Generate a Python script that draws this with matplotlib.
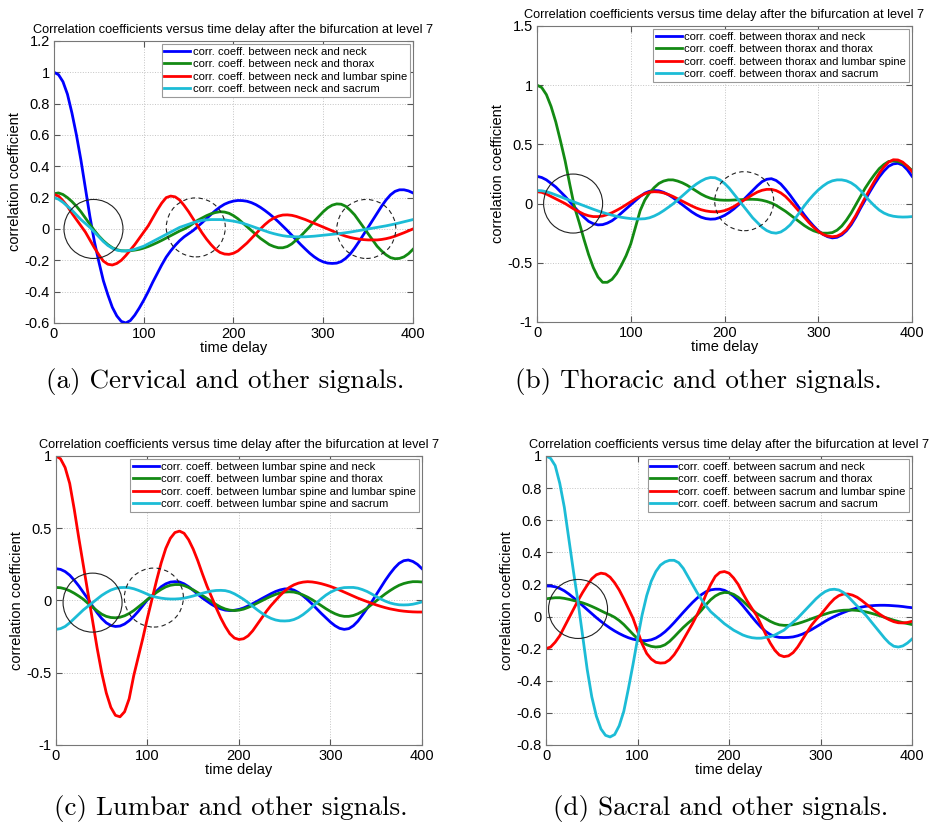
import numpy as np
import matplotlib.pyplot as plt
from matplotlib.patches import Circle
from matplotlib.transforms import ScaledTranslation
from matplotlib.ticker import FuncFormatter

plt.rcParams['font.family'] = ['Liberation Sans', 'DejaVu Sans']

delay = np.arange(0, 401, 5)

# (a) cervical
a_neck = [1.0, 0.985, 0.94, 0.86, 0.74, 0.6, 0.44, 0.26, 0.08, -0.08, -0.21, -0.33, -0.42, -0.5, -0.555, -0.59,
          -0.6, -0.585, -0.55, -0.505, -0.455, -0.4, -0.34, -0.285, -0.23, -0.18, -0.14, -0.105, -0.075, -0.05,
          -0.03, -0.01, 0.015, 0.04, 0.067, 0.093, 0.118, 0.14, 0.158, 0.17, 0.178, 0.182, 0.181, 0.177, 0.168,
          0.155, 0.138, 0.118, 0.096, 0.072, 0.046, 0.018, -0.01, -0.04, -0.07, -0.1, -0.128, -0.155, -0.178,
          -0.197, -0.21, -0.218, -0.22, -0.218, -0.208, -0.188, -0.16, -0.122, -0.08, -0.035, 0.01, 0.055, 0.1,
          0.145, 0.185, 0.218, 0.24, 0.25, 0.25, 0.243, 0.23]
a_thorax = [0.225, 0.23, 0.22, 0.2, 0.175, 0.145, 0.11, 0.07, 0.03, -0.01, -0.045, -0.075, -0.1, -0.12, -0.132,
            -0.139, -0.14, -0.139, -0.135, -0.13, -0.122, -0.112, -0.1, -0.087, -0.073, -0.058, -0.043, -0.028,
            -0.013, 0.0, 0.015, 0.035, 0.055, 0.07, 0.085, 0.097, 0.105, 0.11, 0.108, 0.1, 0.085, 0.065, 0.04,
            0.015, -0.01, -0.035, -0.06, -0.08, -0.1, -0.112, -0.12, -0.12, -0.112, -0.095, -0.07, -0.045, -0.015,
            0.015, 0.05, 0.08, 0.11, 0.135, 0.152, 0.16, 0.158, 0.145, 0.12, 0.09, 0.05, 0.01, -0.03, -0.07, -0.11,
            -0.14, -0.165, -0.183, -0.19, -0.188, -0.178, -0.158, -0.13]
a_lumbar = [0.22, 0.21, 0.18, 0.145, 0.1, 0.06, 0.02, -0.02, -0.07, -0.12, -0.165, -0.205, -0.225, -0.23, -0.22,
            -0.2, -0.17, -0.135, -0.1, -0.06, -0.02, 0.02, 0.07, 0.12, 0.165, 0.2, 0.21, 0.205, 0.185, 0.15, 0.11,
            0.065, 0.02, -0.025, -0.065, -0.1, -0.13, -0.15, -0.16, -0.162, -0.155, -0.14, -0.115, -0.09, -0.06,
            -0.03, 0.0, 0.028, 0.052, 0.07, 0.082, 0.089, 0.09, 0.087, 0.08, 0.07, 0.06, 0.048, 0.036, 0.024,
            0.012, 0.0, -0.012, -0.025, -0.036, -0.046, -0.054, -0.06, -0.065, -0.068, -0.07, -0.07, -0.07,
            -0.067, -0.062, -0.055, -0.046, -0.035, -0.024, -0.012, 0.0]
a_sacrum = [0.2, 0.19, 0.17, 0.145, 0.12, 0.09, 0.06, 0.035, 0.01, -0.02, -0.05, -0.08, -0.105, -0.123, -0.135,
            -0.14, -0.14, -0.136, -0.13, -0.12, -0.11, -0.095, -0.08, -0.065, -0.05, -0.035, -0.02, -0.005, 0.01,
            0.02, 0.03, 0.04, 0.048, 0.055, 0.058, 0.06, 0.06, 0.06, 0.058, 0.054, 0.05, 0.044, 0.037, 0.028,
            0.018, 0.008, -0.002, -0.012, -0.022, -0.03, -0.037, -0.043, -0.047, -0.049, -0.05, -0.05, -0.05,
            -0.048, -0.046, -0.043, -0.04, -0.037, -0.034, -0.031, -0.028, -0.024, -0.02, -0.015, -0.01, -0.005,
            0.0, 0.005, 0.01, 0.015, 0.02, 0.026, 0.032, 0.039, 0.046, 0.053, 0.06]

# (b) thoracic
b_neck = [0.23, 0.22, 0.2, 0.17, 0.14, 0.1, 0.06, 0.015, -0.03, -0.075, -0.115, -0.15, -0.17, -0.18, -0.178,
          -0.165, -0.145, -0.115, -0.08, -0.045, -0.01, 0.025, 0.06, 0.088, 0.104, 0.11, 0.108, 0.095, 0.075,
          0.05, 0.02, -0.01, -0.04, -0.07, -0.095, -0.115, -0.127, -0.132, -0.13, -0.118, -0.1, -0.075, -0.045,
          -0.01, 0.03, 0.07, 0.11, 0.15, 0.185, 0.205, 0.21, 0.195, 0.165, 0.12, 0.07, 0.015, -0.04, -0.095,
          -0.145, -0.19, -0.23, -0.26, -0.28, -0.29, -0.285, -0.265, -0.23, -0.18, -0.115, -0.04, 0.03, 0.1,
          0.165, 0.225, 0.275, 0.315, 0.335, 0.34, 0.325, 0.285, 0.23]
b_thorax = [1.0, 0.98, 0.92, 0.82, 0.69, 0.53, 0.36, 0.16, -0.03, -0.16, -0.3, -0.43, -0.54, -0.62, -0.665,
            -0.665, -0.64, -0.59, -0.52, -0.44, -0.34, -0.2, -0.06, 0.03, 0.09, 0.135, 0.17, 0.19, 0.2, 0.2, 0.19,
            0.175, 0.155, 0.13, 0.105, 0.08, 0.06, 0.045, 0.035, 0.03, 0.028, 0.028, 0.03, 0.032, 0.034, 0.036,
            0.036, 0.034, 0.028, 0.018, 0.004, -0.015, -0.04, -0.065, -0.095, -0.125, -0.155, -0.185, -0.21,
            -0.23, -0.243, -0.25, -0.25, -0.245, -0.225, -0.19, -0.14, -0.08, -0.01, 0.06, 0.13, 0.19, 0.245,
            0.295, 0.33, 0.355, 0.36, 0.355, 0.34, 0.315, 0.28]
b_lumbar = [0.1, 0.095, 0.08, 0.06, 0.04, 0.02, 0.0, -0.025, -0.05, -0.07, -0.09, -0.103, -0.11, -0.11, -0.105,
            -0.093, -0.077, -0.057, -0.035, -0.01, 0.015, 0.04, 0.063, 0.083, 0.096, 0.1, 0.098, 0.09, 0.077, 0.06,
            0.04, 0.02, 0.0, -0.02, -0.038, -0.052, -0.062, -0.068, -0.07, -0.068, -0.06, -0.045, -0.025, 0.0,
            0.025, 0.05, 0.075, 0.097, 0.112, 0.12, 0.12, 0.11, 0.09, 0.06, 0.02, -0.025, -0.07, -0.115, -0.16,
            -0.2, -0.235, -0.26, -0.275, -0.28, -0.275, -0.255, -0.22, -0.165, -0.1, -0.025, 0.05, 0.12, 0.19,
            0.255, 0.31, 0.35, 0.37, 0.368, 0.35, 0.315, 0.27]
b_sacrum = [0.11, 0.108, 0.1, 0.088, 0.073, 0.058, 0.042, 0.027, 0.012, -0.003, -0.018, -0.033, -0.048, -0.062,
            -0.075, -0.087, -0.098, -0.108, -0.116, -0.122, -0.127, -0.13, -0.13, -0.128, -0.12, -0.105, -0.085,
            -0.06, -0.032, -0.003, 0.03, 0.065, 0.1, 0.135, 0.165, 0.19, 0.21, 0.22, 0.218, 0.2, 0.17, 0.13, 0.08,
            0.03, -0.02, -0.07, -0.12, -0.16, -0.2, -0.228, -0.245, -0.25, -0.24, -0.215, -0.18, -0.13, -0.075,
            -0.02, 0.03, 0.075, 0.115, 0.148, 0.175, 0.192, 0.2, 0.2, 0.192, 0.175, 0.148, 0.11, 0.065, 0.02,
            -0.02, -0.055, -0.08, -0.097, -0.107, -0.112, -0.114, -0.113, -0.11]

# (c) lumbar
c_neck = [0.22, 0.215, 0.2, 0.175, 0.14, 0.1, 0.055, 0.01, -0.04, -0.085, -0.125, -0.155, -0.173, -0.18, -0.177,
          -0.163, -0.14, -0.11, -0.075, -0.035, 0.005, 0.033, 0.065, 0.095, 0.115, 0.127, 0.13, 0.128, 0.115,
          0.095, 0.07, 0.043, 0.017, -0.005, -0.027, -0.045, -0.058, -0.067, -0.07, -0.068, -0.062, -0.052,
          -0.038, -0.022, -0.005, 0.013, 0.03, 0.047, 0.062, 0.073, 0.08, 0.08, 0.072, 0.055, 0.032, 0.005,
          -0.025, -0.058, -0.09, -0.12, -0.15, -0.175, -0.193, -0.2, -0.195, -0.175, -0.143, -0.1, -0.055, -0.01,
          0.04, 0.09, 0.14, 0.185, 0.225, 0.257, 0.275, 0.28, 0.27, 0.25, 0.22]
c_thorax = [0.09, 0.088, 0.08, 0.067, 0.05, 0.03, 0.008, -0.02, -0.045, -0.072, -0.095, -0.11, -0.118, -0.12,
            -0.116, -0.106, -0.09, -0.07, -0.045, -0.02, 0.007, 0.032, 0.056, 0.077, 0.094, 0.105, 0.11, 0.11,
            0.103, 0.09, 0.073, 0.054, 0.034, 0.014, -0.008, -0.028, -0.046, -0.059, -0.067, -0.07, -0.067, -0.06,
            -0.048, -0.034, -0.018, -0.002, 0.014, 0.029, 0.042, 0.052, 0.058, 0.06, 0.058, 0.05, 0.038, 0.023,
            0.005, -0.015, -0.036, -0.057, -0.076, -0.092, -0.104, -0.11, -0.11, -0.104, -0.092, -0.075, -0.053,
            -0.028, -0.003, 0.022, 0.046, 0.068, 0.088, 0.105, 0.117, 0.125, 0.13, 0.13, 0.128]
c_lumbar = [1.0, 0.98, 0.92, 0.81, 0.63, 0.43, 0.24, 0.05, -0.14, -0.33, -0.5, -0.64, -0.74, -0.795, -0.805,
            -0.77, -0.68, -0.52, -0.39, -0.26, -0.12, 0.01, 0.14, 0.26, 0.36, 0.43, 0.47, 0.48, 0.465, 0.42, 0.355,
            0.275, 0.185, 0.1, 0.025, -0.05, -0.12, -0.18, -0.23, -0.26, -0.27, -0.265, -0.245, -0.21, -0.165,
            -0.12, -0.075, -0.035, 0.0, 0.035, 0.065, 0.09, 0.108, 0.12, 0.127, 0.13, 0.128, 0.123, 0.116, 0.107,
            0.097, 0.085, 0.072, 0.058, 0.044, 0.03, 0.016, 0.004, -0.008, -0.02, -0.031, -0.041, -0.05, -0.058,
            -0.064, -0.07, -0.074, -0.077, -0.079, -0.08, -0.08]
c_sacrum = [-0.2, -0.195, -0.18, -0.155, -0.125, -0.095, -0.065, -0.04, -0.015, 0.01, 0.035, 0.055, 0.072, 0.083,
            0.089, 0.09, 0.088, 0.081, 0.07, 0.057, 0.043, 0.03, 0.022, 0.016, 0.012, 0.01, 0.01, 0.012, 0.016,
            0.023, 0.031, 0.04, 0.05, 0.058, 0.065, 0.069, 0.07, 0.068, 0.06, 0.046, 0.028, 0.008, -0.015, -0.04,
            -0.065, -0.088, -0.108, -0.124, -0.135, -0.141, -0.142, -0.14, -0.132, -0.118, -0.098, -0.073, -0.045,
            -0.016, 0.012, 0.037, 0.057, 0.072, 0.083, 0.089, 0.09, 0.09, 0.085, 0.075, 0.062, 0.045, 0.027, 0.01,
            -0.005, -0.017, -0.025, -0.03, -0.031, -0.03, -0.026, -0.019, -0.01]

# (d) sacral
d_neck = [0.19, 0.19, 0.185, 0.175, 0.16, 0.14, 0.117, 0.093, 0.068, 0.043, 0.018, -0.007, -0.03, -0.052, -0.072,
          -0.09, -0.106, -0.12, -0.132, -0.141, -0.147, -0.15, -0.15, -0.145, -0.134, -0.117, -0.095, -0.068,
          -0.038, -0.006, 0.026, 0.057, 0.087, 0.114, 0.137, 0.155, 0.166, 0.17, 0.17, 0.163, 0.148, 0.127, 0.1,
          0.068, 0.033, -0.002, -0.036, -0.067, -0.093, -0.112, -0.124, -0.13, -0.131, -0.13, -0.127, -0.12,
          -0.11, -0.097, -0.082, -0.065, -0.048, -0.03, -0.014, 0.0, 0.013, 0.025, 0.036, 0.045, 0.053, 0.059,
          0.064, 0.067, 0.069, 0.07, 0.07, 0.069, 0.067, 0.065, 0.062, 0.058, 0.055]
d_thorax = [0.11, 0.114, 0.117, 0.117, 0.113, 0.107, 0.1, 0.093, 0.085, 0.075, 0.063, 0.05, 0.036, 0.022, 0.01,
            -0.005, -0.025, -0.05, -0.08, -0.11, -0.138, -0.16, -0.176, -0.186, -0.19, -0.187, -0.176, -0.155,
            -0.127, -0.097, -0.068, -0.042, -0.018, 0.008, 0.04, 0.075, 0.105, 0.128, 0.143, 0.15, 0.148, 0.138,
            0.12, 0.097, 0.07, 0.043, 0.02, 0.003, -0.013, -0.03, -0.043, -0.052, -0.055, -0.055, -0.051, -0.044,
            -0.035, -0.025, -0.014, -0.004, 0.006, 0.015, 0.024, 0.031, 0.036, 0.039, 0.04, 0.04, 0.038, 0.034,
            0.028, 0.021, 0.013, 0.004, -0.005, -0.014, -0.023, -0.031, -0.038, -0.044, -0.05]
d_lumbar = [-0.2, -0.19, -0.16, -0.12, -0.065, -0.01, 0.045, 0.1, 0.15, 0.195, 0.235, 0.26, 0.27, 0.265, 0.245,
            0.21, 0.165, 0.11, 0.05, -0.01, -0.09, -0.17, -0.23, -0.265, -0.285, -0.29, -0.288, -0.27, -0.238,
            -0.195, -0.145, -0.095, -0.045, 0.01, 0.07, 0.14, 0.2, 0.25, 0.275, 0.28, 0.27, 0.24, 0.2, 0.145,
            0.095, 0.05, 0.008, -0.05, -0.11, -0.165, -0.21, -0.24, -0.25, -0.245, -0.225, -0.19, -0.145, -0.1,
            -0.055, -0.02, 0.01, 0.045, 0.08, 0.11, 0.13, 0.14, 0.14, 0.133, 0.12, 0.1, 0.077, 0.055, 0.033, 0.013,
            -0.005, -0.02, -0.032, -0.039, -0.04, -0.037, -0.03]
d_sacrum = [1.0, 0.985, 0.94, 0.83, 0.68, 0.48, 0.28, 0.09, -0.12, -0.33, -0.5, -0.62, -0.7, -0.74, -0.75,
            -0.735, -0.68, -0.59, -0.45, -0.3, -0.14, 0.01, 0.13, 0.22, 0.28, 0.32, 0.34, 0.35, 0.35, 0.335, 0.3,
            0.25, 0.2, 0.15, 0.105, 0.065, 0.03, 0.005, -0.02, -0.045, -0.065, -0.085, -0.1, -0.115, -0.125,
            -0.132, -0.135, -0.135, -0.13, -0.125, -0.115, -0.1, -0.085, -0.06, -0.035, -0.01, 0.02, 0.05, 0.08,
            0.11, 0.135, 0.155, 0.167, 0.17, 0.165, 0.15, 0.125, 0.095, 0.065, 0.035, 0.005, -0.03, -0.065, -0.1,
            -0.135, -0.165, -0.185, -0.19, -0.183, -0.165, -0.14]

regions = ['neck', 'thorax', 'lumbar spine', 'sacrum']
colors = ['#0000ff', '#138a13', '#ff0000', '#1cbcd6']

panels = [
    ('neck', [a_neck, a_thorax, a_lumbar, a_sacrum], (-0.6, 1.2), 0.2, '(a) Cervical and other signals.'),
    ('thorax', [b_neck, b_thorax, b_lumbar, b_sacrum], (-1, 1.5), 0.5, '(b) Thoracic and other signals.'),
    ('lumbar spine', [c_neck, c_thorax, c_lumbar, c_sacrum], (-1, 1), 0.5, '(c) Lumbar and other signals.'),
    ('sacrum', [d_neck, d_thorax, d_lumbar, d_sacrum], (-0.8, 1), 0.2, '(d) Sacral and other signals.'),
]

# highlighted crossings: (delay, coefficient, dashed)
circles = [
    [(44, 0.0, False), (158, 0.01, True), (348, 0.0, True)],
    [(38.5, 0.0, False), (221, 0.02, True)],
    [(40, -0.015, False), (107, 0.02, True)],
    [(35, 0.047, False)],
]

rects = [[0.0575, 0.609, 0.3823, 0.3414],
         [0.5719, 0.6102, 0.3994, 0.3584],
         [0.0596, 0.0981, 0.3898, 0.3499],
         [0.5815, 0.0981, 0.3898, 0.3499]]
caption_pos = [(225, 382), (698, 382), (231, 808), (721, 808)]

fig = plt.figure(figsize=(9.39, 8.26), dpi=100)
fmt = FuncFormatter(lambda v, p: '%g' % (round(v, 6) + 0.0))

for i, (ref, series, ylim, step, caption) in enumerate(panels):
    ax = fig.add_axes(rects[i])
    for s, reg, col in zip(series, regions, colors):
        assert len(s) == len(delay), (ref, reg, len(s))
        ax.plot(delay, s, color=col, lw=2.0, label='corr. coeff. between %s and %s' % (ref, reg))
    ax.set_xlim(0, 400)
    ax.set_ylim(*ylim)
    ax.set_xticks(np.arange(0, 401, 100))
    ax.set_yticks(np.arange(ylim[0], ylim[1] + step / 2, step))
    ax.xaxis.set_major_formatter(fmt)
    ax.yaxis.set_major_formatter(fmt)
    ax.tick_params(direction='in', top=True, right=True, labelsize=10.5, length=4, pad=3, color='#555555')
    ax.grid(True, ls=':', color='#c4c4c4', lw=0.7)
    for sp in ax.spines.values():
        sp.set_color('#777777')
    ax.set_title('Correlation coefficients versus time delay after the bifurcation at level 7',
                 fontsize=9.2, pad=6)
    ax.set_xlabel('time delay', fontsize=10.5, labelpad=0)
    ax.set_ylabel('correlation coefficient', fontsize=10.5, labelpad=2)
    leg = ax.legend(loc='upper right', fontsize=8.1, frameon=True, fancybox=False, edgecolor='#999999',
                    framealpha=1, handlelength=2.3, handletextpad=0.2, labelspacing=0.2,
                    borderpad=0.25, borderaxespad=0.3)
    leg.get_frame().set_linewidth(0.8)
    for cx, cy, dashed in circles[i]:
        tr = fig.dpi_scale_trans + ScaledTranslation(cx, cy, ax.transData)
        ax.add_patch(Circle((0, 0), 0.295, transform=tr, fill=False, ec='#222222', lw=0.8,
                            ls=(0, (4, 3)) if dashed else '-', zorder=3))
    px, py = caption_pos[i]
    fig.text(px / 939, 1 - py / 826, caption, family='cmr10', fontsize=19.5, ha='center', va='center')

fig.savefig('out.png', dpi=100)
